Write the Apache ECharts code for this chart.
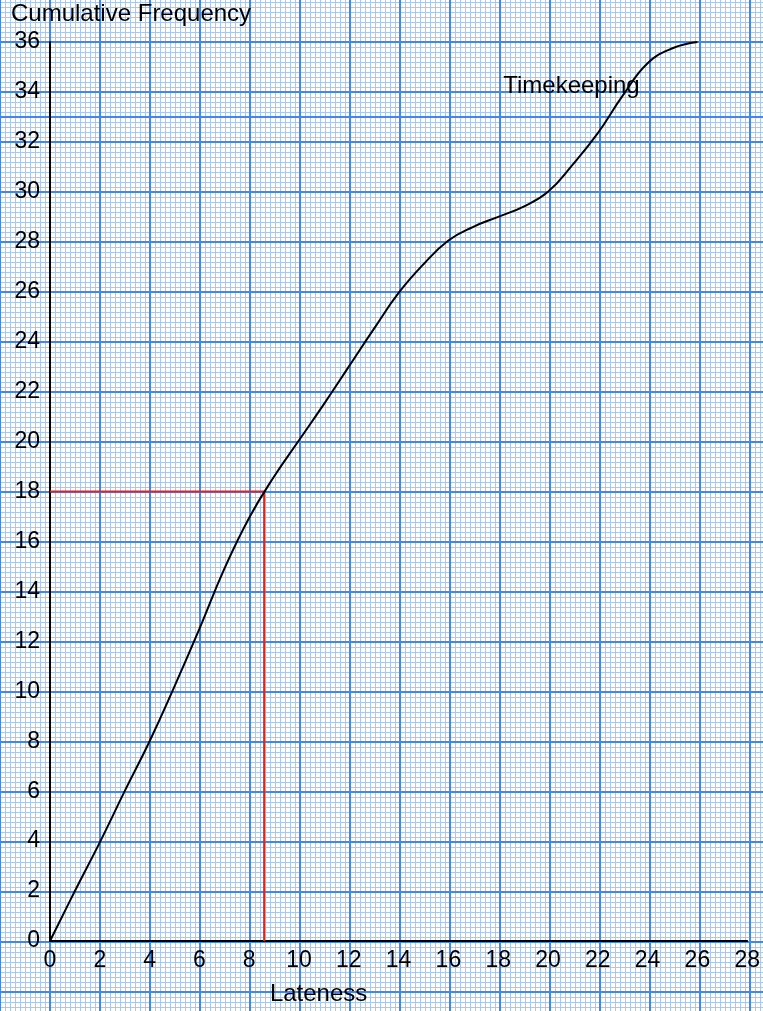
<!DOCTYPE html>
<html>
<head>
<meta charset="utf-8">
<script src="https://cdn.jsdelivr.net/npm/echarts@6/dist/echarts.min.js"></script>
<style>
  html, body { margin: 0; padding: 0; background: #fff; }
  #chart {
    width: 763px; height: 1011px;
    background-color: #fff;
    background-image:
      linear-gradient(to bottom, transparent 116px, #4285f4 116px, #4285f4 118px, transparent 118px),
      linear-gradient(to right, #4285f4 2px, transparent 2px),
      linear-gradient(to bottom, #4285f4 2px, transparent 2px),
      linear-gradient(to right, #a8c6fa 1px, transparent 1px),
      linear-gradient(to bottom, #a8c6fa 1px, transparent 1px);
    background-size: 100% 100%, 50px 100%, 100% 50px, 5px 100%, 100% 5px;
    background-repeat: no-repeat, repeat-x, repeat-y, repeat-x, repeat-y;
    background-position: 0 0, 49px 0, 0 41px, 0 0, 0 2px;
  }
</style>
</head>
<body>
<div id="chart"></div>
<script>
// Data
const lateness = [0, 1, 2, 3, 4, 5, 6, 7, 8, 9, 10, 11, 12, 13, 14, 15, 16, 17, 18, 19, 20, 21, 22, 23, 24, 25, 26];
const cumFreq  = [0, 2, 3.95, 6, 8, 10.2, 12.5, 14.9, 16.95, 18.6, 20.05, 21.5, 23, 24.5, 25.95, 27.1, 28.05, 28.6, 29, 29.4, 30, 31.1, 32.35, 33.85, 35.15, 35.75, 36];
const medianX = [0, 8.6, 8.6];
const medianY = [18, 18, 0];
const seriesLabel = 'Timekeeping';
const seriesLabelAt = [18.2, 34.24];
const xName = 'Lateness';
const yName = 'Cumulative Frequency';

const FONT = '"Liberation Sans", Arial, sans-serif';
const chart = echarts.init(document.getElementById('chart'), null, { renderer: 'canvas' });

const curve = lateness.map((x, i) => [x, cumFreq[i]]);
const median = medianX.map((x, i) => [x, medianY[i]]);

chart.setOption({
  animation: false,
  backgroundColor: 'transparent',
  grid: { left: 50, right: 13, top: 42, bottom: 69, containLabel: false },
  xAxis: {
    type: 'value', min: 0, max: 28, interval: 2,
    name: xName, nameLocation: 'middle', nameGap: 53,
    nameTextStyle: { fontFamily: FONT, fontSize: 24, color: '#000', verticalAlign: 'middle', align: 'center', padding: [0, 160, 0, 0] },
    axisLine: { show: true, onZero: false, lineStyle: { color: '#000', width: 2 } },
    axisTick: { show: false },
    axisLabel: { fontFamily: FONT, fontSize: 23, color: '#000', margin: 8, showMinLabel: true, showMaxLabel: true, hideOverlap: false },
    splitLine: { show: false },
    minorSplitLine: { show: false }
  },
  yAxis: {
    type: 'value', min: 0, max: 36, interval: 2,
    name: yName, nameLocation: 'end', nameGap: 28,
    nameTextStyle: { fontFamily: FONT, fontSize: 24, color: '#000', align: 'left', verticalAlign: 'middle', padding: [0, 0, 0, -39] },
    axisLine: { show: true, onZero: false, lineStyle: { color: '#000', width: 2 } },
    axisTick: { show: false },
    axisLabel: { fontFamily: FONT, fontSize: 23, color: '#000', margin: 10, showMinLabel: true, showMaxLabel: true, hideOverlap: false },
    splitLine: { show: false },
    minorSplitLine: { show: false }
  },
  series: [
    {
      type: 'line', data: median, symbol: 'none', silent: true,
      lineStyle: { color: '#e8201a', width: 2 }, z: 3
    },
    {
      type: 'line', data: curve, smooth: 0.45, symbol: 'none', silent: true,
      lineStyle: { color: '#000', width: 2 }, z: 4
    },
    {
      type: 'scatter', data: [seriesLabelAt], symbolSize: 0, silent: true,
      itemStyle: { opacity: 1 },
      label: { show: true, position: 'right', distance: 0, formatter: seriesLabel,
               fontFamily: FONT, fontSize: 24, color: '#000', opacity: 1, align: 'left', verticalAlign: 'middle' },
      z: 5
    }
  ]
});
</script>
</body>
</html>
